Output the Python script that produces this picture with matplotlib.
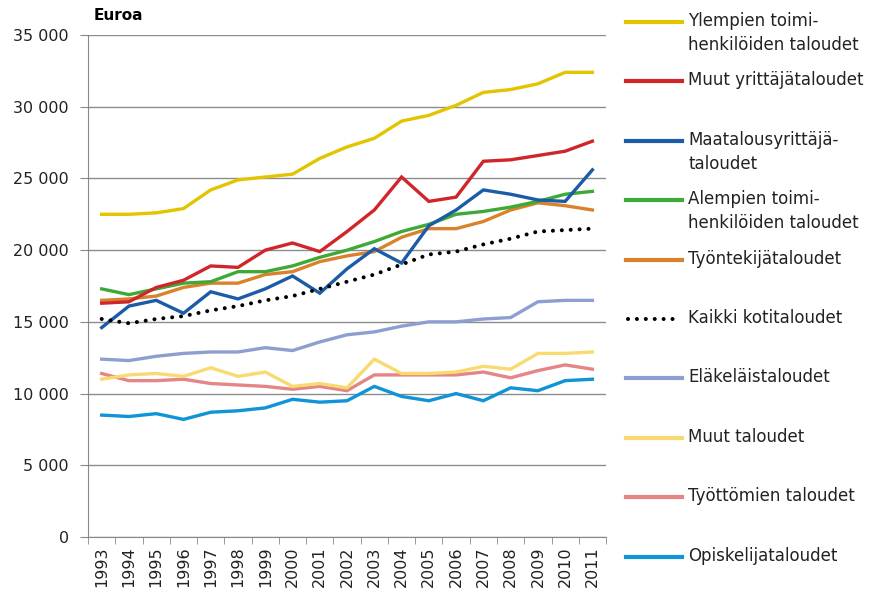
import matplotlib.pyplot as plt
from matplotlib.lines import Line2D
from matplotlib.ticker import FuncFormatter

years = list(range(1993, 2012))

ylemmat = [22500, 22500, 22600, 22900, 24200, 24900, 25100, 25300, 26400, 27200,
           27800, 29000, 29400, 30100, 31000, 31200, 31600, 32400, 32400]
muut_yrittajat = [16300, 16400, 17400, 17900, 18900, 18800, 20000, 20500, 19900, 21300,
                  22800, 25100, 23400, 23700, 26200, 26300, 26600, 26900, 27600]
maatalous = [14600, 16100, 16500, 15600, 17100, 16600, 17300, 18200, 17000, 18700,
             20100, 19100, 21700, 22800, 24200, 23900, 23500, 23400, 25600]
alemmat = [17300, 16900, 17300, 17700, 17800, 18500, 18500, 18900, 19500, 20000,
           20600, 21300, 21800, 22500, 22700, 23000, 23400, 23900, 24100]
tyontekijat = [16500, 16600, 16800, 17400, 17700, 17700, 18300, 18500, 19200, 19600,
               19900, 20900, 21500, 21500, 22000, 22800, 23300, 23100, 22800]
kaikki = [15200, 14900, 15200, 15400, 15800, 16100, 16500, 16800, 17300, 17800,
          18300, 19000, 19700, 19900, 20400, 20800, 21300, 21400, 21500]
elakelaiset = [12400, 12300, 12600, 12800, 12900, 12900, 13200, 13000, 13600, 14100,
               14300, 14700, 15000, 15000, 15200, 15300, 16400, 16500, 16500]
muut = [11000, 11300, 11400, 11200, 11800, 11200, 11500, 10500, 10700, 10400,
        12400, 11400, 11400, 11500, 11900, 11700, 12800, 12800, 12900]
tyottomat = [11400, 10900, 10900, 11000, 10700, 10600, 10500, 10300, 10500, 10200,
             11300, 11300, 11300, 11300, 11500, 11100, 11600, 12000, 11700]
opiskelijat = [8500, 8400, 8600, 8200, 8700, 8800, 9000, 9600, 9400, 9500,
               10500, 9800, 9500, 10000, 9500, 10400, 10200, 10900, 11000]

labels = ["Ylempien toimi-\nhenkilöiden taloudet", "Muut yrittäjätaloudet",
          "Maatalousyrittäjä-\ntaloudet", "Alempien toimi-\nhenkilöiden taloudet",
          "Työntekijätaloudet", "Kaikki kotitaloudet", "Eläkeläistaloudet",
          "Muut taloudet", "Työttömien taloudet", "Opiskelijataloudet"]
series = [ylemmat, muut_yrittajat, maatalous, alemmat, tyontekijat, kaikki,
          elakelaiset, muut, tyottomat, opiskelijat]
colors = ["#E3C400", "#D0262B", "#1A5CA6", "#3DAA38", "#D9822B", "black",
          "#8C9FD0", "#F9DA70", "#E58585", "#0F94D6"]

fig = plt.figure(figsize=(8.72, 5.94), dpi=100)
ax = fig.add_axes([0.101, 0.096, 0.594, 0.845])

x = range(len(years))
# draw bottom series first so upper ones lie on top
for i in reversed(range(len(series))):
    if labels[i] == "Kaikki kotitaloudet":
        ax.plot(x, series[i], color=colors[i], lw=2.9, dashes=(0.01, 2.2),
                dash_capstyle="round", zorder=5)
    else:
        ax.plot(x, series[i], color=colors[i], lw=2.4, solid_joinstyle="miter", zorder=3)

ax.set_xlim(-0.5, len(years) - 0.5)
ax.set_ylim(0, 35000)
ax.set_yticks(range(0, 35001, 5000))
ax.yaxis.set_major_formatter(FuncFormatter(lambda v, p: f"{int(v):,}".replace(",", " ")))
ax.set_xticks(list(x))
ax.set_xticklabels([str(y) for y in years], rotation=90)
ax.set_xticks([i - 0.5 for i in range(len(years) + 1)], minor=True)
ax.tick_params(axis="x", which="major", length=0, pad=7, labelsize=11.5, labelcolor="#222222")
ax.tick_params(axis="x", which="minor", length=5, color="#888888")
ax.tick_params(axis="y", length=6, color="#888888", labelsize=11.5, pad=8, labelcolor="#222222")

ax.grid(axis="y", color="#8c8c8c", lw=1)
ax.set_axisbelow(True)
for s in ["top", "right"]:
    ax.spines[s].set_visible(False)
for s in ["left", "bottom"]:
    ax.spines[s].set_color("#888888")

fig.text(0.107, 0.962, "Euroa", fontsize=11, fontweight="bold", va="bottom")

# legend on the right
W, H = 872, 594
for i, lab in enumerate(labels):
    yp = 22 + i * 59.4
    yf = 1 - yp / H
    if labels[i] == "Kaikki kotitaloudet":
        ln = Line2D([628 / W, 680 / W], [yf, yf], transform=fig.transFigure,
                    color=colors[i], lw=2.9, dashes=(0.01, 2.2), dash_capstyle="round")
    else:
        ln = Line2D([626 / W, 682 / W], [yf, yf], transform=fig.transFigure,
                    color=colors[i], lw=3)
    fig.add_artist(ln)
    fig.text(688 / W, yf + 10 / H, lab, fontsize=12, va="top", ha="left",
             linespacing=1.45, color="#222222")

fig.savefig("out.png", dpi=100)
